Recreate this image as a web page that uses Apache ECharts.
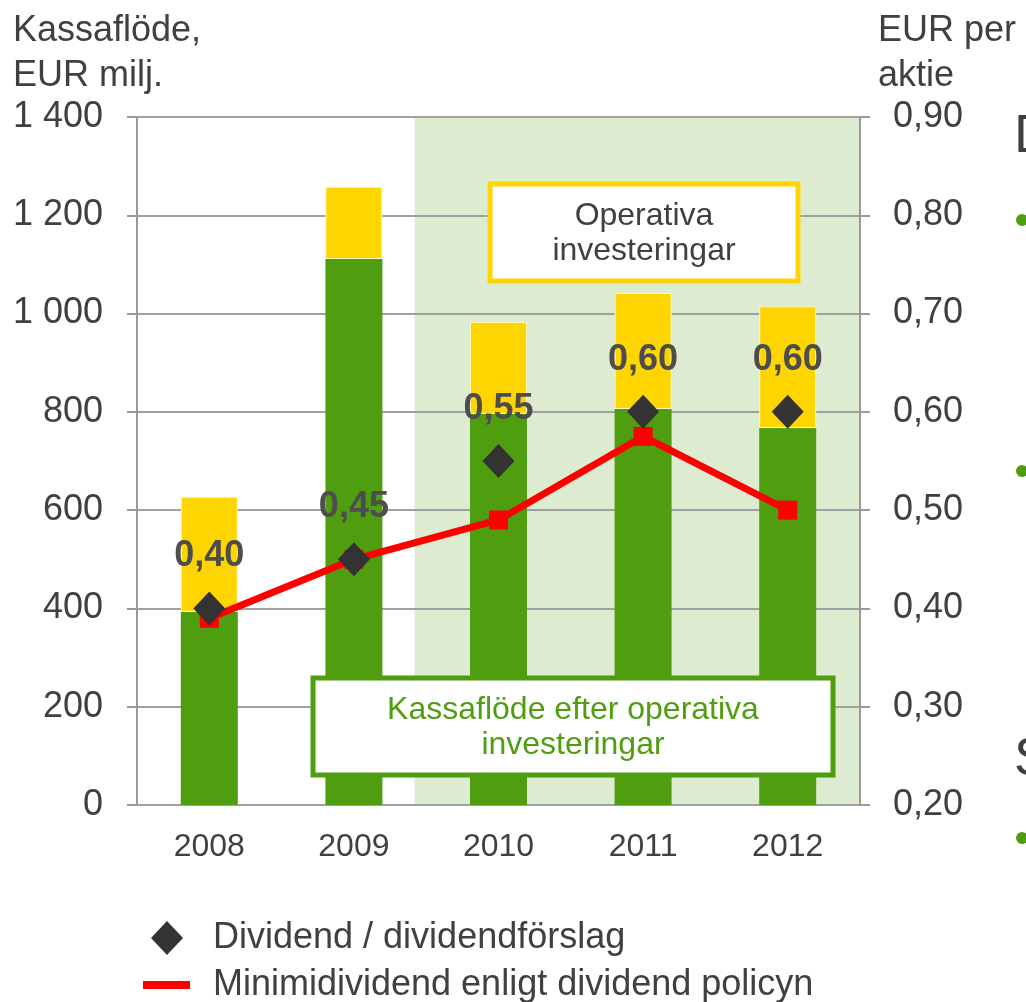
<!DOCTYPE html>
<html lang="sv">
<head>
    <meta charset="UTF-8">
    <title>Kassaflöde och dividend</title>
    <script src="https://cdn.jsdelivr.net/npm/echarts@6.0.0/dist/echarts.min.js"></script>
    <style>
        body { margin: 0; background: #fff; }
        #chart { width: 1026px; height: 1002px; }
    </style>
</head>
<body>
    <div id="chart"></div>
    <script>
        // data
        var years = ['2008', '2009', '2010', '2011', '2012'];
        var cashAfterInvest = [393, 1111, 796, 806, 767];
        var operInvest = [234, 147, 187, 236, 248];
        var dividend = [0.40, 0.45, 0.55, 0.60, 0.60];
        var minDividend = [0.39, 0.45, 0.49, 0.575, 0.50];
        var shadeRange = [1.92, 5];   // in category units, 2010 onwards

        var font = 'Liberation Sans, Arial, sans-serif';
        var textGray = '#404040';
        var green = '#4f9e10';
        var yellow = '#ffd500';

        var myChart = echarts.init(document.getElementById('chart'));

        var option = {
            animation: false,
            textStyle: { fontFamily: font },
            title: [
                {
                    text: 'Kassaflöde,\nEUR milj.',
                    left: 8, top: 4,
                    textStyle: { fontSize: 36, fontWeight: 'normal', color: textGray, lineHeight: 45, fontFamily: font }
                },
                {
                    text: 'EUR per\naktie',
                    left: 873, top: 4,
                    textStyle: { fontSize: 36, fontWeight: 'normal', color: textGray, lineHeight: 45, fontFamily: font }
                }
            ],
            grid: { left: 137, right: 166, top: 117, bottom: 197 },
            legend: [
                {
                    data: ['Dividend / dividendförslag'],
                    left: 146, top: 915,
                    icon: 'diamond',
                    itemWidth: 32, itemHeight: 34,
                    textStyle: { fontSize: 36, color: textGray, padding: [0, 0, 0, 25], fontFamily: font }
                },
                {
                    data: ['Minimidividend enligt dividend policyn'],
                    left: 138, top: 962,
                    icon: 'rect',
                    itemWidth: 47, itemHeight: 8,
                    itemStyle: { color: '#ff0000' },
                    textStyle: { fontSize: 36, color: textGray, padding: [0, 0, 0, 18], fontFamily: font }
                }
            ],
            xAxis: [
                {
                    type: 'category',
                    data: years,
                    axisLine: { lineStyle: { color: '#999', width: 2 } },
                    axisTick: { length: 10, lineStyle: { color: '#999', width: 2 } },
                    axisLabel: { fontSize: 32, color: textGray, margin: 26 }
                },
                {
                    type: 'value',
                    min: 0, max: 5,
                    show: false
                }
            ],
            yAxis: [
                {
                    type: 'value',
                    z: 1,
                    min: 0, max: 1400, interval: 200,
                    axisLine: { show: true, lineStyle: { color: '#999', width: 2 } },
                    axisTick: { show: true, length: 10, lineStyle: { color: '#999', width: 2 } },
                    axisLabel: {
                        fontSize: 36, color: textGray, margin: 34,
                        formatter: function (v) { return String(v).replace(/\B(?=(\d{3})+(?!\d))/g, ' '); }
                    },
                    splitLine: { lineStyle: { color: '#a0a0a0', width: 2 } }
                },
                {
                    type: 'value',
                    z: 1,
                    min: 0.2, max: 0.9, interval: 0.1,
                    position: 'right',
                    axisLine: { show: true, lineStyle: { color: '#999', width: 2 } },
                    axisTick: { show: true, length: 10, lineStyle: { color: '#999', width: 2 } },
                    axisLabel: {
                        fontSize: 36, color: textGray, margin: 33,
                        formatter: function (v) { return v.toFixed(2).replace('.', ','); }
                    },
                    splitLine: { show: false }
                }
            ],
            series: [
                {
                    name: 'shade',
                    type: 'line',
                    xAxisIndex: 1,
                    yAxisIndex: 0,
                    data: [],
                    z: 0,
                    silent: true,
                    markArea: {
                        silent: true,
                        z: 0,
                        itemStyle: { color: '#ddebd0' },
                        data: [[{ xAxis: shadeRange[0], yAxis: 0 }, { xAxis: shadeRange[1], yAxis: 1400 }]]
                    }
                },
                {
                    name: 'Kassaflöde efter operativa investeringar',
                    type: 'bar',
                    stack: 'cash',
                    barWidth: 57,
                    data: cashAfterInvest,
                    itemStyle: { color: green }
                },
                {
                    name: 'Operativa investeringar',
                    type: 'bar',
                    stack: 'cash',
                    barWidth: 57,
                    data: operInvest,
                    itemStyle: { color: yellow, borderColor: '#fff7c0', borderWidth: 1 }
                },
                {
                    name: 'Minimidividend enligt dividend policyn',
                    type: 'line',
                    yAxisIndex: 1,
                    data: minDividend,
                    symbol: 'rect',
                    symbolSize: 19,
                    lineStyle: { color: '#ff0000', width: 7 },
                    itemStyle: { color: '#ff0000' },
                    z: 4
                },
                {
                    name: 'Dividend / dividendförslag',
                    type: 'scatter',
                    yAxisIndex: 1,
                    data: dividend,
                    symbol: 'diamond',
                    symbolSize: [32, 34],
                    itemStyle: { color: '#333333', opacity: 1 },
                    z: 5,
                    label: {
                        show: true,
                        position: 'top',
                        distance: 17,
                        fontSize: 36,
                        fontWeight: 'bold',
                        color: '#4d4d4d',
                        formatter: function (p) { return p.value.toFixed(2).replace('.', ','); }
                    }
                }
            ],
            graphic: [
                {
                    type: 'rect',
                    z: 100,
                    shape: { x: 490, y: 184, width: 308, height: 97 },
                    style: { fill: '#fff', stroke: yellow, lineWidth: 5 }
                },
                {
                    type: 'text',
                    z: 101,
                    x: 644, y: 234,
                    style: {
                        text: 'Operativa\ninvesteringar',
                        fill: textGray, font: '32px ' + font,
                        align: 'center', verticalAlign: 'middle', lineHeight: 35
                    }
                },
                {
                    type: 'rect',
                    z: 100,
                    shape: { x: 313, y: 678, width: 520, height: 97 },
                    style: { fill: '#fff', stroke: green, lineWidth: 5 }
                },
                {
                    type: 'text',
                    z: 101,
                    x: 573, y: 728,
                    style: {
                        text: 'Kassaflöde efter operativa\ninvesteringar',
                        fill: green, font: '32px ' + font,
                        align: 'center', verticalAlign: 'middle', lineHeight: 35
                    }
                },
                // cut-off slide text at the right edge
                { type: 'text', left: 1014, top: 110, style: { text: 'D', fill: textGray, font: '54px ' + font } },
                { type: 'text', left: 1014, top: 733, style: { text: 'S', fill: textGray, font: '54px ' + font } },
                { type: 'circle', shape: { cx: 1022, cy: 220, r: 6 }, style: { fill: green } },
                { type: 'circle', shape: { cx: 1022, cy: 471, r: 6 }, style: { fill: green } },
                { type: 'circle', shape: { cx: 1022, cy: 838, r: 6 }, style: { fill: green } }
            ]
        };

        myChart.setOption(option);
    </script>
</body>
</html>
